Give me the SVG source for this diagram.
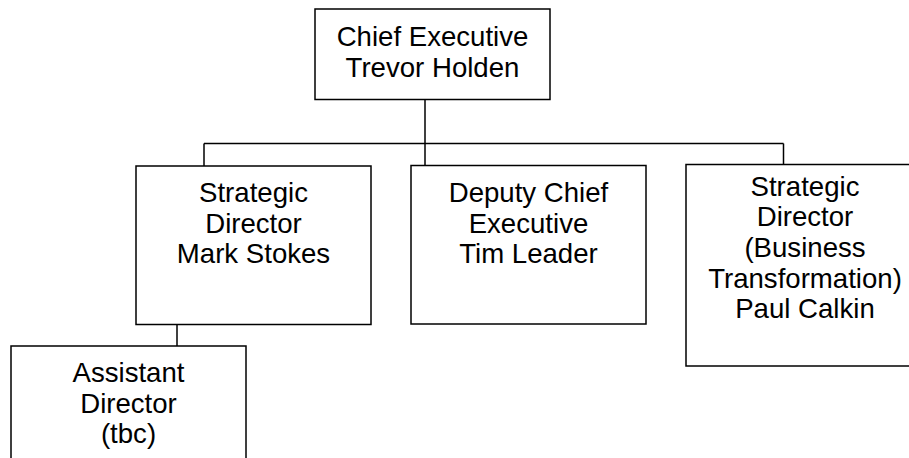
<svg xmlns="http://www.w3.org/2000/svg" width="909" height="458" viewBox="0 0 909 458">
<style>
rect{fill:#fff;stroke:#000;stroke-width:1.5}
line{stroke:#000;stroke-width:1.5}
text{font-family:"Liberation Sans",Arial,sans-serif;font-size:27.6px;fill:#000;text-anchor:middle}
</style>
<rect x="0" y="0" width="909" height="458" style="stroke:none"/>
<g id="connectors">
<line x1="425" y1="99" x2="425" y2="165.5"/>
<line x1="204" y1="143.5" x2="783.5" y2="143.5"/>
<line x1="204" y1="143.5" x2="204" y2="166"/>
<line x1="783.5" y1="143.5" x2="783.5" y2="164.5"/>
<line x1="177" y1="324" x2="177" y2="346"/>
</g>
<g id="chief">
<rect x="315" y="9" width="235" height="90.5"/>
<text x="432.5" y="46">Chief Executive</text>
<text x="432.5" y="76.5">Trevor Holden</text>
</g>
<g id="strategic-mark">
<rect x="136" y="166" width="235" height="158.5"/>
<text x="253.5" y="202">Strategic</text>
<text x="253.5" y="232.7">Director</text>
<text x="253.5" y="263.4">Mark Stokes</text>
</g>
<g id="deputy">
<rect x="411" y="165.5" width="235" height="158.5"/>
<text x="528.5" y="202">Deputy Chief</text>
<text x="528.5" y="232.7">Executive</text>
<text x="528.5" y="263.4">Tim Leader</text>
</g>
<g id="strategic-paul">
<rect x="686" y="164.5" width="238" height="201.5"/>
<text x="805" y="195.5">Strategic</text>
<text x="805" y="226.2">Director</text>
<text x="805" y="256.9">(Business</text>
<text x="805" y="287.6">Transformation)</text>
<text x="805" y="318.3">Paul Calkin</text>
</g>
<g id="assistant">
<rect x="11" y="346" width="235" height="140"/>
<text x="128.5" y="382">Assistant</text>
<text x="128.5" y="412.7">Director</text>
<text x="128.5" y="443.4">(tbc)</text>
</g>
</svg>
